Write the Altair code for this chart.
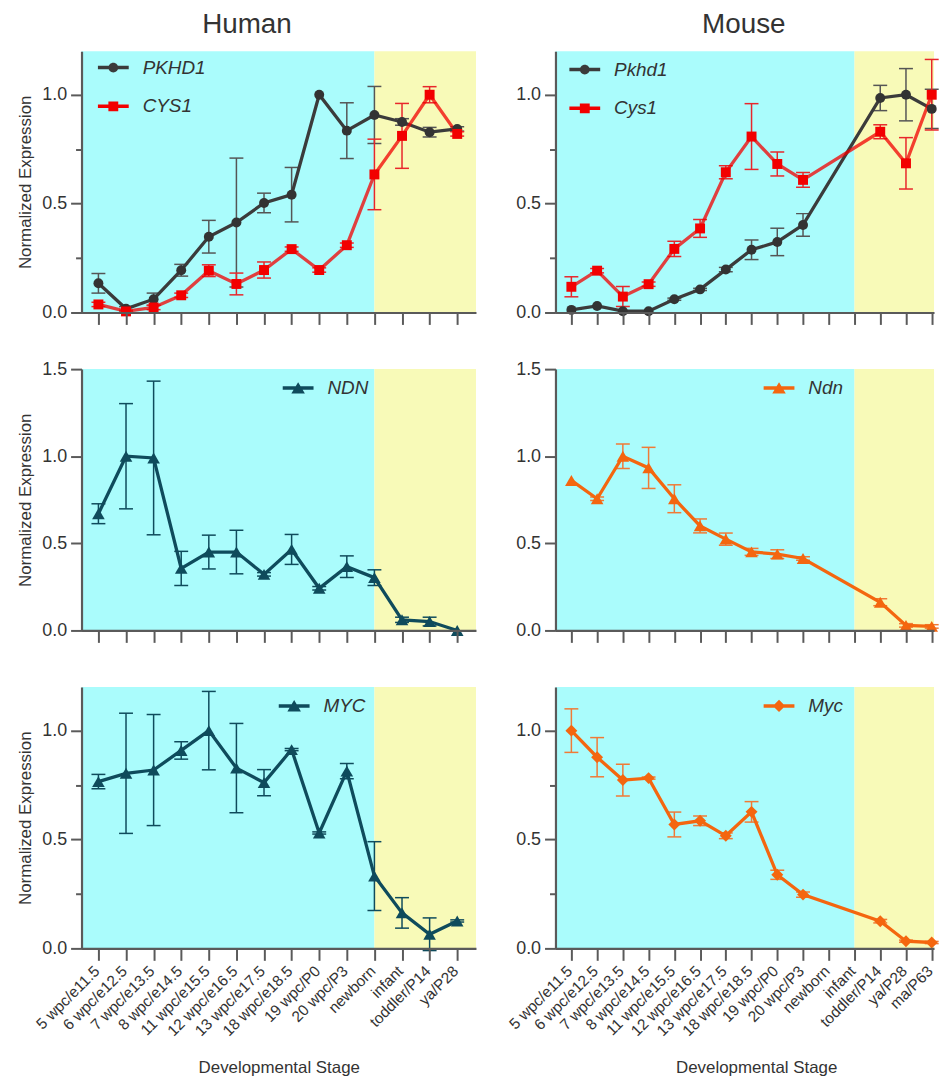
import json
import altair as alt
import pandas as pd

FONT = "Liberation Sans, Arial, Helvetica, sans-serif"
CYAN = "#aafcfc"
YELLOW = "#f8fab8"

HUMAN_STAGES = ["5 wpc/e11.5", "6 wpc/e12.5", "7 wpc/e13.5", "8 wpc/e14.5",
                "11 wpc/e15.5", "12 wpc/e16.5", "13 wpc/e17.5", "18 wpc/e18.5",
                "19 wpc/P0", "20 wpc/P3", "newborn", "infant", "toddler/P14", "ya/P28"]
MOUSE_STAGES = HUMAN_STAGES + ["ma/P63"]
HUMAN_IDX = list(range(14))
MOUSE_IDX = [0, 1, 2, 3, 4, 5, 6, 7, 8, 9, 12, 13, 14]

PKHD1_H = [0.134, 0.017, 0.061, 0.194, 0.348, 0.413, 0.503, 0.541, 1.0, 0.835, 0.907, 0.875, 0.828, 0.843]
PKHD1_H_ERR = [0.045, 0.01, 0.028, 0.027, 0.075, 0.296, 0.045, 0.125, 0.0, 0.128, 0.131, 0.015, 0.022, 0.01]
CYS1_H = [0.037, 0.005, 0.023, 0.079, 0.192, 0.131, 0.195, 0.291, 0.195, 0.309, 0.634, 0.811, 1.0, 0.82]
CYS1_H_ERR = [0.01, 0.005, 0.01, 0.01, 0.027, 0.05, 0.037, 0.01, 0.01, 0.01, 0.162, 0.149, 0.037, 0.01]
NDN_H = [0.67, 1.0, 0.99, 0.356, 0.45, 0.45, 0.322, 0.465, 0.242, 0.366, 0.303, 0.061, 0.051, 0.0]
NDN_H_ERR = [0.057, 0.302, 0.441, 0.098, 0.097, 0.125, 0.01, 0.086, 0.01, 0.062, 0.045, 0.015, 0.025, 0.0]
MYC_H = [0.766, 0.804, 0.819, 0.909, 1.0, 0.828, 0.761, 0.913, 0.53, 0.814, 0.332, 0.163, 0.065, 0.126]
MYC_H_ERR = [0.033, 0.276, 0.255, 0.04, 0.18, 0.205, 0.06, 0.005, 0.005, 0.035, 0.158, 0.07, 0.075, 0.005]

PKHD1_M = [0.012, 0.03, 0.006, 0.006, 0.061, 0.106, 0.197, 0.288, 0.324, 0.402, 0.985, 1.0, 0.935]
PKHD1_M_ERR = [0.0, 0.0, 0.0, 0.0, 0.005, 0.005, 0.01, 0.045, 0.063, 0.052, 0.058, 0.12, 0.09]
CYS1_M = [0.118, 0.192, 0.073, 0.13, 0.292, 0.386, 0.644, 0.808, 0.682, 0.609, 0.83, 0.685, 1.0]
CYS1_M_ERR = [0.046, 0.01, 0.046, 0.01, 0.035, 0.041, 0.03, 0.151, 0.055, 0.034, 0.032, 0.118, 0.162]
NDN_M = [0.861, 0.756, 1.0, 0.933, 0.756, 0.6, 0.524, 0.451, 0.438, 0.413, 0.162, 0.029, 0.023]
NDN_M_ERR = [0.0, 0.01, 0.07, 0.118, 0.08, 0.04, 0.035, 0.02, 0.025, 0.01, 0.02, 0.01, 0.01]
MYC_M = [1.0, 0.878, 0.773, 0.782, 0.569, 0.586, 0.517, 0.627, 0.338, 0.247, 0.125, 0.033, 0.027]
MYC_M_ERR = [0.1, 0.09, 0.073, 0.005, 0.057, 0.022, 0.013, 0.047, 0.021, 0.012, 0.008, 0.005, 0.005]

LINE_PATH = "M-1,-0.11H1V0.11H-1Z"
SYM_PATHS = {
    "circle": LINE_PATH + "M0.32,0A0.32,0.32,0,1,1,-0.32,0A0.32,0.32,0,1,1,0.32,0Z",
    "square": LINE_PATH + "M-0.32,-0.32H0.32V0.32H-0.32Z",
    "triangle-up": LINE_PATH + "M0,-0.38L0.44,0.36L-0.44,0.36Z",
    "diamond": LINE_PATH + "M0,-0.4L0.4,0L0,0.4L-0.4,0Z",
}

GRAY = "#3b3b3b"
RED = "#f20000"
TEAL = "#0f4b5c"
ORANGE = "#f4660f"


def ser(name, idx, vals, errs, lcol, mcol, ecol, shape, size, lop=1.0):
    return dict(name=name, idx=idx, vals=vals, errs=errs, lcol=lcol, mcol=mcol,
                ecol=ecol, shape=shape, size=size, lop=lop)


def panel(series, stages, xdom, boundary, ydom, yvals, minor, width, height,
          legend_xy, bottom=False, ytitle=False, title=None, title_dx=0, xtitle_x=None):
    n = len(stages)
    xs = alt.Scale(domain=xdom, nice=False, zero=False)
    ys = alt.Scale(domain=ydom, nice=False, zero=False)

    xkw = dict(values=list(range(n)), tickSize=12, grid=False, orient="bottom", zindex=1)
    if bottom:
        xkw.update(labelExpr=json.dumps(stages) + "[datum.value]", labelAngle=315,
                   labelAlign="right", labelBaseline="middle", labelPadding=8,
                   labelOffset=-2, labelOverlap=False, labelFontSize=15.5,
                   title="Developmental Stage", titleFontSize=17,
                   titleBaseline="alphabetic", titleY=125)
        if xtitle_x is not None:
            xkw["titleX"] = xtitle_x
    else:
        xkw.update(labels=False, title=None)
    xaxis = alt.Axis(**xkw)

    ykw = dict(values=yvals, format=".1f", tickSize=11, grid=False, labelPadding=4,
               labelFontSize=18, orient="left", zindex=1)
    if ytitle:
        ykw.update(title="Normalized Expression", titleFontSize=17, titleAngle=270,
                   titleX=-51.5, titleY=height / 2, titleAlign="center",
                   titleBaseline="alphabetic")
    else:
        ykw["title"] = None
    yaxis = alt.Axis(**ykw)
    minor_axis = None
    if minor:
        minor_axis = alt.Axis(values=minor, labels=False, domain=False, tickSize=6,
                              title=None, orient="left", grid=False, zindex=1)

    bg_df = pd.DataFrame({"x0": [xdom[0], boundary], "x1": [boundary, xdom[1]],
                          "y0": [ydom[0]] * 2, "y1": [ydom[1]] * 2, "c": [CYAN, YELLOW]})
    layers = [alt.Chart(bg_df).mark_rect(strokeWidth=0).encode(
        x=alt.X("x0:Q", scale=xs, axis=xaxis), x2="x1:Q",
        y=alt.Y("y0:Q", scale=ys, axis=yaxis), y2="y1:Q",
        fill=alt.Fill("c:N", scale=None))]

    dfs = []
    for s in series:
        df = pd.DataFrame({"i": s["idx"], "v": s["vals"], "e": s["errs"]})
        df["lo"] = df["v"] - df["e"]
        df["hi"] = df["v"] + df["e"]
        dfs.append(df)

    for s, df in zip(series, dfs):
        edf = df[df["e"] > 0.004]
        layers.append(alt.Chart(edf).mark_rule(color=s["ecol"], strokeWidth=1.5).encode(
            x=alt.X("i:Q", scale=xs, axis=None),
            y=alt.Y("lo:Q", scale=ys, axis=None), y2="hi:Q"))
        layers.append(alt.Chart(edf).transform_fold(["lo", "hi"], as_=["k", "yv"])
                      .mark_tick(color=s["ecol"], orient="horizontal", size=14,
                                 thickness=1.5, opacity=1)
                      .encode(x=alt.X("i:Q", scale=xs, axis=None),
                              y=alt.Y("yv:Q", scale=ys, axis=None)))

    first = True
    for s, df in zip(series, dfs):
        layers.append(alt.Chart(df).mark_line(color=s["lcol"], strokeWidth=3.3,
                                              opacity=s["lop"]).encode(
            x=alt.X("i:Q", scale=xs, axis=None),
            y=alt.Y("v:Q", scale=ys, axis=minor_axis if first else None)))
        first = False
    for s, df in zip(series, dfs):
        layers.append(alt.Chart(df).mark_point(filled=True, shape=s["shape"], size=s["size"],
                                               color=s["mcol"], opacity=1).encode(
            x=alt.X("i:Q", scale=xs, axis=None),
            y=alt.Y("v:Q", scale=ys, axis=None)))

    names = [s["name"] for s in series]
    leg = alt.Legend(orient="none", legendX=legend_xy[0], legendY=legend_xy[1], title=None,
                     labelFont=FONT, labelFontSize=19, labelFontStyle="italic",
                     labelColor="#333333", symbolSize=961, symbolStrokeWidth=0,
                     labelOffset=14, rowPadding=13, padding=0, symbolOpacity=1)
    leg_df = pd.DataFrame({"g": names})
    layers.append(alt.Chart(leg_df).transform_filter("false").mark_point(filled=True, opacity=1).encode(
        color=alt.Color("g:N", scale=alt.Scale(domain=names, range=[s["lcol"] if s["lop"] == 1.0 else s["mcol"] for s in series]), legend=leg),
        shape=alt.Shape("g:N", scale=alt.Scale(domain=names, range=[SYM_PATHS[s["shape"]] for s in series]), legend=leg)))

    ch = alt.layer(*layers).resolve_axis(x="independent", y="independent")
    props = dict(width=width, height=height)
    if title:
        props["title"] = alt.TitleParams(text=title, fontSize=28, font=FONT, fontWeight="normal",
                                         color="#333333", offset=-16, baseline="bottom",
                                         anchor="middle", dx=title_dx)
    return ch.properties(**props)


HW, MW, H = 397, 381, 263
HX = [-0.612, 13.68]
MX = [-0.618, 14.09]

h1 = panel([ser("PKHD1", HUMAN_IDX, PKHD1_H, PKHD1_H_ERR, GRAY, "#333333", "#555555", "circle", 100),
            ser("CYS1", HUMAN_IDX, CYS1_H, CYS1_H_ERR, RED, RED, "#e8262b", "square", 100, lop=0.75)],
           HUMAN_STAGES, HX, 10, [0, 1.2], [0, 0.5, 1.0], [0.25, 0.75], HW, H, (16.5, 1),
           ytitle=True, title="Human", title_dx=-32)
m1 = panel([ser("Pkhd1", MOUSE_IDX, PKHD1_M, PKHD1_M_ERR, GRAY, "#333333", "#555555", "circle", 100),
            ser("Cys1", MOUSE_IDX, CYS1_M, CYS1_M_ERR, RED, RED, "#e8262b", "square", 100, lop=0.75)],
           MOUSE_STAGES, MX, 11, [0, 1.2], [0, 0.5, 1.0], [0.25, 0.75], MW, H, (14, 3),
           title="Mouse", title_dx=-1)
h2 = panel([ser("NDN", HUMAN_IDX, NDN_H, NDN_H_ERR, TEAL, TEAL, TEAL, "triangle-up", 160)],
           HUMAN_STAGES, HX, 10, [0, 1.5], [0, 0.5, 1.0, 1.5], [], HW, H, (202.5, 3.5),
           ytitle=True)
m2 = panel([ser("Ndn", MOUSE_IDX, NDN_M, NDN_M_ERR, ORANGE, ORANGE, "#f07a36", "triangle-up", 160)],
           MOUSE_STAGES, MX, 11, [0, 1.5], [0, 0.5, 1.0, 1.5], [], MW, H, (209.5, 3.5))
h3 = panel([ser("MYC", HUMAN_IDX, MYC_H, MYC_H_ERR, TEAL, TEAL, TEAL, "triangle-up", 160)],
           HUMAN_STAGES, HX, 10, [0, 1.2], [0, 0.5, 1.0], [0.25, 0.75], HW, H, (198.5, 3.5),
           ytitle=True, bottom=True)
m3 = panel([ser("Myc", MOUSE_IDX, MYC_M, MYC_M_ERR, ORANGE, ORANGE, "#f07a36", "diamond", 144)],
           MOUSE_STAGES, MX, 11, [0, 1.2], [0, 0.5, 1.0], [0.25, 0.75], MW, H, (209.5, 3.5),
           bottom=True, xtitle_x=202)

chart = alt.concat(h1, m1, h2, m2, h3, m3, columns=2, spacing={"row": 57, "column": 80},
                   bounds="flush", align="each").resolve_scale(
    color="independent", shape="independent", x="independent", y="independent"
).resolve_legend(color="independent", shape="independent").properties(
    padding={"left": 8, "top": 0, "right": 0, "bottom": 0}
).configure(font=FONT).configure_view(stroke=None).configure_axis(
    labelFont=FONT, titleFont=FONT, labelColor="#333333", titleColor="#333333",
    domainColor="#5a5a5a", tickColor="#5a5a5a", domainWidth=2.2, tickWidth=2,
    titleFontWeight="normal")

chart.save("out.html", embed_options={"renderer": "svg", "actions": False})
